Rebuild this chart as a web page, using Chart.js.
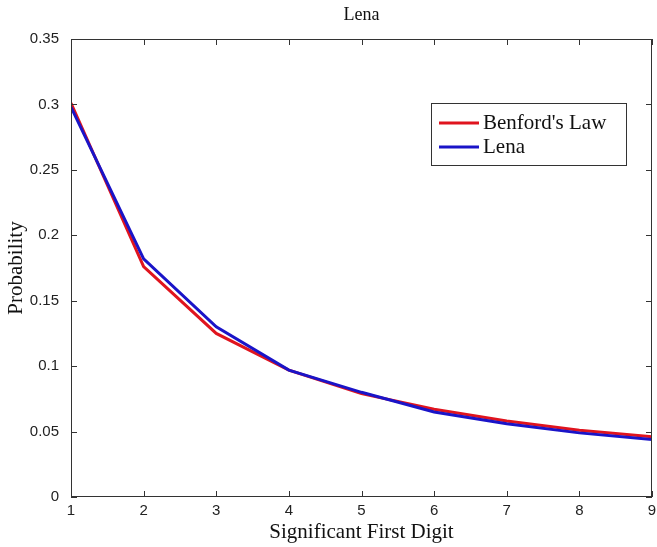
<!DOCTYPE html>
<html>
<head>
<meta charset="utf-8">
<script src="https://cdn.jsdelivr.net/npm/chart.js@4"></script>
<style>
  html, body { margin: 0; padding: 0; background: #fff; }
  #wrap { width: 657px; height: 547px; }
</style>
</head>
<body>
<div id="wrap"><canvas id="myChart" width="657" height="547"></canvas></div>
<script>
var digits = [1, 2, 3, 4, 5, 6, 7, 8, 9];
var benford = [0.301, 0.176, 0.125, 0.097, 0.079, 0.067, 0.058, 0.051, 0.046];
var lena = [0.298, 0.182, 0.130, 0.097, 0.080, 0.065, 0.056, 0.049, 0.044];
var yTicks = [0, 0.05, 0.1, 0.15, 0.2, 0.25, 0.3, 0.35];
var chartTitle = "Lena";
var xTitle = "Significant First Digit";
var yTitle = "Probability";

function points(ys) {
  return digits.map(function (d, i) { return { x: d, y: ys[i] }; });
}

// matlab style: box around the plot, ticks pointing inwards, legend inside
var matlabBox = {
  id: "matlabBox",
  afterDraw: function (chart) {
    var c = chart.ctx, a = chart.chartArea;
    var xs = chart.scales.x, ys = chart.scales.y;
    c.save();
    c.strokeStyle = "#333";
    c.lineWidth = 1;
    c.strokeRect(a.left + 0.5, a.top + 0.5, a.right - a.left - 1, a.bottom - a.top - 1);
    c.beginPath();
    digits.forEach(function (d) {
      var px = Math.round(xs.getPixelForValue(d)) + 0.5;
      c.moveTo(px, a.bottom); c.lineTo(px, a.bottom - 6);
      c.moveTo(px, a.top); c.lineTo(px, a.top + 6);
    });
    yTicks.forEach(function (v) {
      var py = Math.round(ys.getPixelForValue(v)) + 0.5;
      c.moveTo(a.left, py); c.lineTo(a.left + 6, py);
      c.moveTo(a.right, py); c.lineTo(a.right - 6, py);
    });
    c.stroke();

    // title
    c.fillStyle = "#111";
    c.font = "18px 'Liberation Serif', 'Times New Roman', serif";
    c.textAlign = "center";
    c.textBaseline = "middle";
    c.fillText(chartTitle, (a.left + a.right) / 2, 15);

    // legend
    var lx = 431, ly = 103, lw = 195, lh = 62;
    c.fillStyle = "#fff";
    c.fillRect(lx, ly, lw, lh);
    c.strokeStyle = "#333";
    c.strokeRect(lx + 0.5, ly + 0.5, lw, lh);
    c.font = "21px 'Liberation Serif', 'Times New Roman', serif";
    c.textAlign = "left";
    chart.data.datasets.forEach(function (ds, i) {
      var yy = ly + 20 + i * 24;
      c.strokeStyle = ds.borderColor;
      c.lineWidth = 3;
      c.beginPath();
      c.moveTo(lx + 8, yy); c.lineTo(lx + 48, yy);
      c.stroke();
      c.fillStyle = "#111";
      c.fillText(ds.label, lx + 52, yy);
    });
    c.restore();
  }
};

var ctx = document.getElementById("myChart").getContext("2d");
var myChart = new Chart(ctx, {
  type: "line",
  data: {
    datasets: [
      {
        label: "Benford's Law",
        data: points(benford),
        borderColor: "#e0141e",
        borderWidth: 3,
        pointRadius: 0,
        tension: 0,
        order: 2,
      },
      {
        label: "Lena",
        data: points(lena),
        borderColor: "#1a14c8",
        borderWidth: 3,
        pointRadius: 0,
        tension: 0,
        order: 1,
      },
    ],
  },
  options: {
    responsive: false,
    animation: false,
    layout: { padding: { left: 0, right: 5, top: 39, bottom: 0 } },
    plugins: {
      legend: { display: false },
      tooltip: { enabled: false },
    },
    scales: {
      x: {
        type: "linear",
        min: 1,
        max: 9,
        afterBuildTicks: function (s) { s.ticks = digits.map(function (d) { return { value: d }; }); },
        afterFit: function (s) { s.height = 50; s.paddingLeft = 0; s.paddingRight = 0; },
        grid: { display: false, drawTicks: false },
        border: { display: false },
        ticks: {
          color: "#222",
          padding: 5,
          maxRotation: 0,
          font: { family: "'Liberation Sans', Arial, sans-serif", size: 15 },
        },
        title: {
          display: true,
          text: xTitle,
          color: "#111",
          padding: { top: 0, bottom: 2 },
          font: { family: "'Liberation Serif', 'Times New Roman', serif", size: 21 },
        },
      },
      y: {
        min: 0,
        max: 0.35,
        afterBuildTicks: function (s) { s.ticks = yTicks.map(function (v) { return { value: v }; }); },
        afterFit: function (s) { s.width = 71; s.paddingTop = 0; s.paddingBottom = 0; },
        grid: { display: false },
        border: { display: false },
        ticks: {
          color: "#222",
          padding: 4,
          font: { family: "'Liberation Sans', Arial, sans-serif", size: 15 },
          callback: function (v) { return String(+v.toFixed(2)); },
        },
        title: {
          display: true,
          text: yTitle,
          color: "#111",
          padding: { top: 4, bottom: 2 },
          font: { family: "'Liberation Serif', 'Times New Roman', serif", size: 21 },
        },
      },
    },
  },
  plugins: [matlabBox],
});
</script>
</body>
</html>
